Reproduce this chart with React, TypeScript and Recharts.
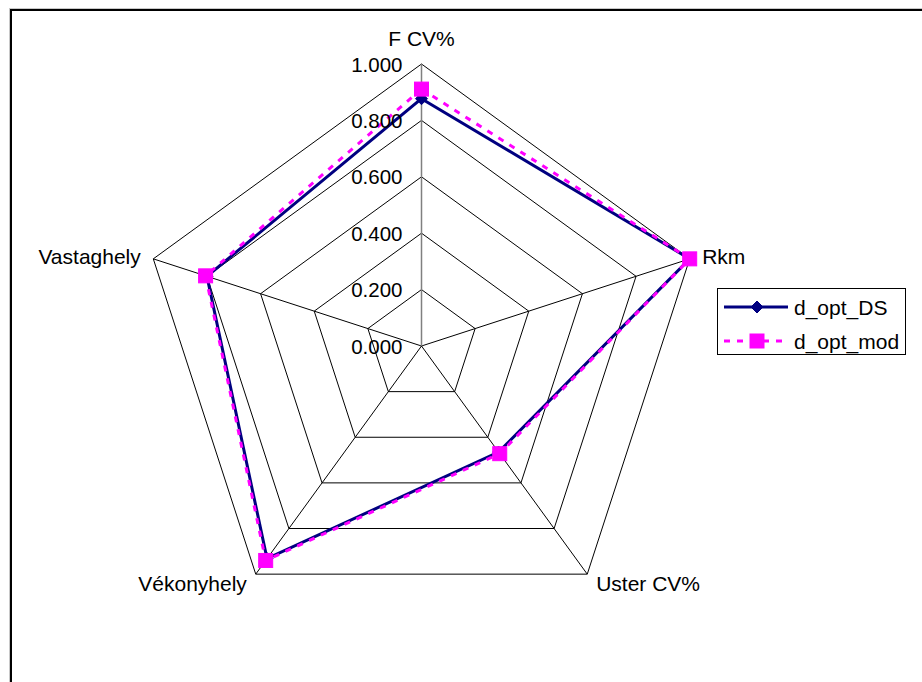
import React from 'react';
import {
  RadarChart,
  Radar,
  PolarGrid,
  PolarAngleAxis,
  PolarRadiusAxis,
  Legend,
} from 'recharts';

const categories = ['F CV%', 'Rkm', 'Uster CV%', 'Vékonyhely', 'Vastaghely'];
const dsValues = [0.877, 1.0, 0.465, 0.932, 0.8];
const modValues = [0.911, 1.0, 0.472, 0.94, 0.805];
const radiusTicks = [0, 0.2, 0.4, 0.6, 0.8, 1.0];

const data = categories.map((name, i) => ({
  name,
  d_opt_DS: dsValues[i],
  d_opt_mod: modValues[i],
}));

const CX = 421.5;
const CY = 346;
const R = 282;
const FONT = '"Liberation Sans", Arial, sans-serif';
const NAVY = '#000080';
const MAGENTA = '#FF00FF';

// category labels placed just outside the outer pentagon
const AngleTick = (props: any) => {
  const { payload } = props;
  const a = (payload.coordinate * Math.PI) / 180;
  const cos = Math.cos(a);
  const r = R + 10;
  let x = CX + r * cos;
  let y = CY - r * Math.sin(a);
  let anchor: 'start' | 'end' | 'middle' = 'middle';
  if (cos > 0.01) {
    anchor = 'start';
    x += 3;
    y += 1;
  } else if (cos < -0.01) {
    anchor = 'end';
    x -= 3;
    y += 1;
  } else {
    y -= 16;
  }
  return (
    <text x={x} y={y} textAnchor={anchor} dominantBaseline="central" fill="#000" fontSize={21} fontFamily={FONT}>
      {payload.value}
    </text>
  );
};

const RadiusTick = (props: any) => {
  const { x, y, payload } = props;
  return (
    <text x={x - 19} y={y} textAnchor="end" dominantBaseline="central" fill="#000" fontSize={20.5} fontFamily={FONT}>
      {Number(payload.value).toFixed(3)}
    </text>
  );
};

const Diamond = ({ cx, cy, s = 6 }: any) => (
  <polygon points={`${cx},${cy - s} ${cx + s},${cy} ${cx},${cy + s} ${cx - s},${cy}`} fill={NAVY} stroke={NAVY} />
);

const Square = ({ cx, cy, s = 7 }: any) => (
  <rect x={cx - s} y={cy - s} width={s * 2} height={s * 2} fill={MAGENTA} stroke={MAGENTA} />
);

const renderLegend = () => (
  <div
    style={{
      border: '1px solid #000',
      width: 189,
      height: 67,
      boxSizing: 'border-box',
      background: '#fff',
    }}
  >
    <svg width={187} height={65} style={{ display: 'block' }}>
      <line x1={6} y1={18} x2={70} y2={18} stroke={NAVY} strokeWidth={3} />
      <Diamond cx={39} cy={18} />
      <text x={76} y={18} dominantBaseline="central" fontSize={21} fontFamily={FONT}>d_opt_DS</text>
      <line x1={6} y1={52} x2={70} y2={52} stroke={MAGENTA} strokeWidth={3} strokeDasharray="6 7" />
      <Square cx={39} cy={52} />
      <text x={76} y={52} dominantBaseline="central" fontSize={21} fontFamily={FONT}>d_opt_mod</text>
    </svg>
  </div>
);

export default function App() {
  return (
    <div
      style={{
        position: 'fixed',
        left: 0,
        top: 0,
        width: 922,
        height: 682,
        overflow: 'hidden',
        background: '#fff',
      }}
    >
      <div
        style={{
          position: 'absolute',
          left: 10,
          top: 9,
          width: 960,
          height: 720,
          border: '2px solid #000',
          boxShadow: '-1px -1px 0 #c8c8c8',
        }}
      />
      <div style={{ position: 'absolute', left: 0, top: 0 }}>
        <RadarChart
          width={922}
          height={682}
          data={data}
          cx={CX}
          cy={CY}
          outerRadius={R}
          startAngle={90}
          endAngle={-270}
          margin={{ top: 0, right: 0, bottom: 0, left: 0 }}
        >
          <PolarGrid gridType="polygon" stroke="#000" strokeWidth={1} />
          <PolarAngleAxis dataKey="name" tick={AngleTick} tickLine={false} axisLine={false} />
          <PolarRadiusAxis
            angle={90}
            type="number"
            domain={[0, 1]}
            ticks={radiusTicks as any}
            tickCount={6}
            tick={RadiusTick}
            tickLine={false}
            axisLine={{ stroke: '#808080', strokeWidth: 1.5 }}
          />
          <Radar
            name="d_opt_DS"
            dataKey="d_opt_DS"
            stroke={NAVY}
            strokeWidth={3}
            fill="none"
            fillOpacity={0}
            dot={(p: any) => <Diamond key={`ds-${p.index}`} cx={p.cx} cy={p.cy} />}
            isAnimationActive={false}
          />
          <Radar
            name="d_opt_mod"
            dataKey="d_opt_mod"
            stroke={MAGENTA}
            strokeWidth={3}
            strokeDasharray="6 7"
            fill="none"
            fillOpacity={0}
            dot={(p: any) => <Square key={`mod-${p.index}`} cx={p.cx} cy={p.cy} />}
            isAnimationActive={false}
          />
          <Legend
            content={renderLegend}
            layout="vertical"
            wrapperStyle={{ position: 'absolute', left: 717, top: 288, width: 189, height: 67 }}
          />
        </RadarChart>
      </div>
    </div>
  );
}
